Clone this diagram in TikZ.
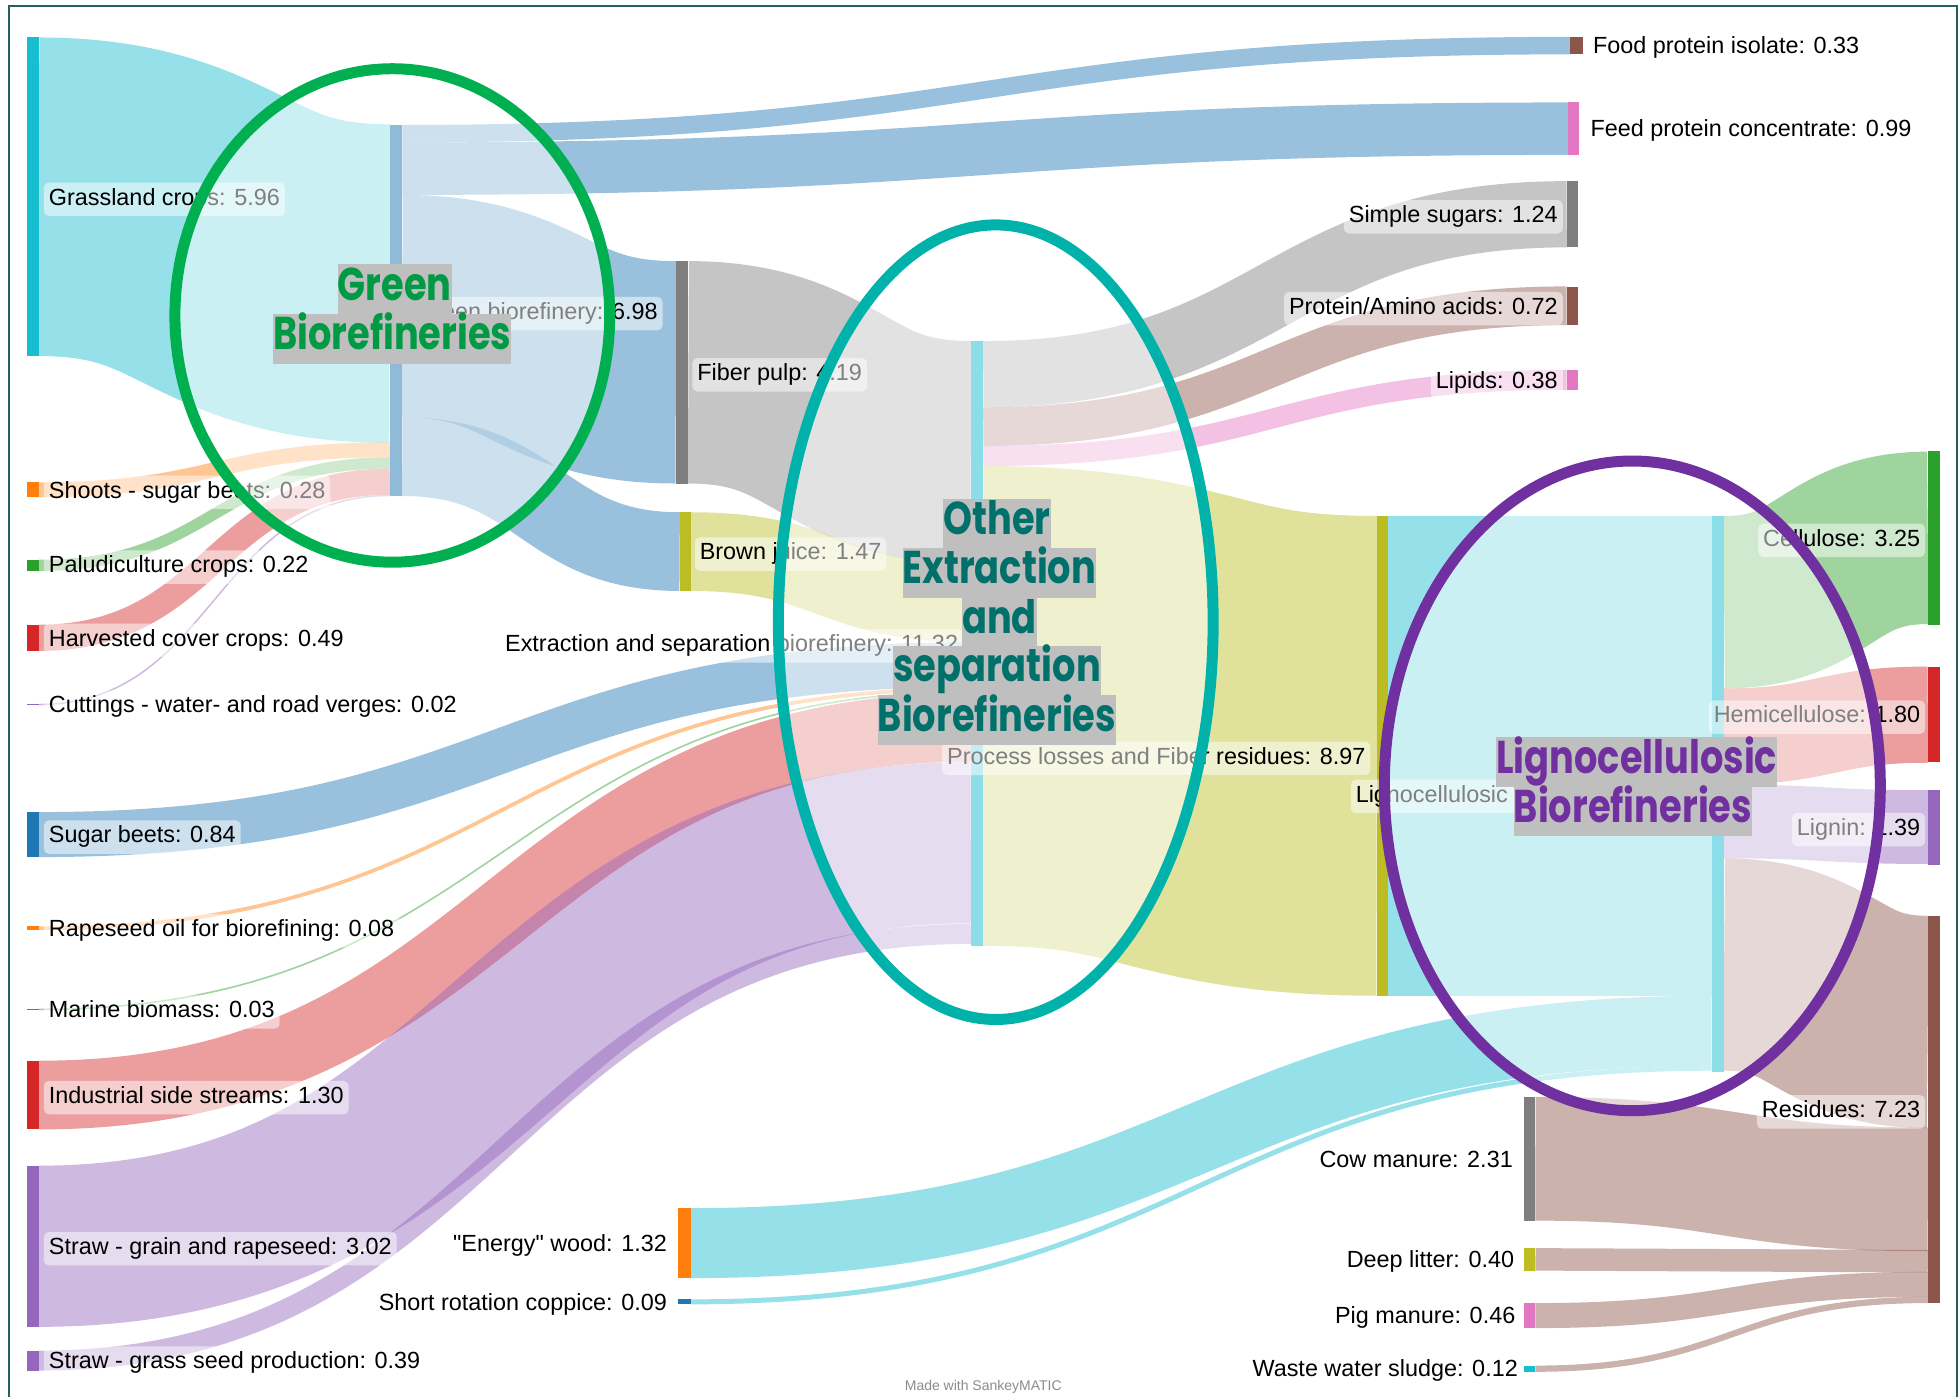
\documentclass[tikz,border=0pt]{standalone}
\usepackage{fontspec}
\setmainfont{Liberation Sans}
\newfontfamily\plainquote[Ligatures=TeXOff]{Liberation Sans}
\newfontfamily\titlefont[FakeStretch=0.8]{Poppins}
\usetikzlibrary{fit}
\definecolor{cCyan}{HTML}{17BECF}
\definecolor{cOrange}{HTML}{FF7F0E}
\definecolor{cGreen}{HTML}{2CA02C}
\definecolor{cRed}{HTML}{D62728}
\definecolor{cPurple}{HTML}{9467BD}
\definecolor{cBlue}{HTML}{1F77B4}
\definecolor{cGray}{HTML}{7F7F7F}
\definecolor{cOlive}{HTML}{BCBD22}
\definecolor{cBrown}{HTML}{8C564B}
\definecolor{cPink}{HTML}{E377C2}
\definecolor{ellGreen}{HTML}{00B050}
\definecolor{ellTeal}{HTML}{00B2AA}
\definecolor{ellPurple}{HTML}{7030A0}
\definecolor{txtGreen}{HTML}{009A44}
\definecolor{txtTeal}{HTML}{00706A}
\definecolor{txtPurple}{HTML}{7030A0}
\definecolor{titleGray}{HTML}{BFBFBF}
\definecolor{frameCol}{HTML}{275E5E}
% flow: colour, x source, y top, y bottom (source), x target, y top, y bottom (target)
\newcommand\sankeyflow[7]{%
  \draw[#1, draw opacity=0.45, line cap=butt, line width={(#4-#3)*1.25pt}]
    (#2,{(#3+#4)/2}) .. controls ({(#2+#5)/2},{(#3+#4)/2}) and ({(#2+#5)/2},{(#6+#7)/2}) .. (#5,{(#6+#7)/2});}
\newcommand\sbar[6]{\node[fit={(#3,#4) (#5,#6)}, inner sep=0pt, fill=#2, draw=none] (#1) {};}
\tikzset{
  lbl/.style={font=\fontsize{23.4}{28}\selectfont, fill=white, fill opacity=0.5, text opacity=1, rounded corners=5pt, inner xsep=5pt, inner ysep=6pt, text height=16.5pt, text depth=5pt, yshift=-2.5pt},
  ttl/.style={font=\titlefont\bfseries\fontsize{46}{50}\selectfont, fill=titleGray, inner xsep=0pt, inner ysep=0pt, text height=33pt, text depth=11pt, minimum height=50pt, anchor=center},
  ring/.style={line width=11pt, fill=white, fill opacity=0.5, draw opacity=1}
}
\begin{document}
\begin{tikzpicture}[x=1.25pt,y=-1.25pt]
\useasboundingbox (0,0) rectangle (1568,1118);
\fill[white] (0,0) rectangle (1568,1118);
% ---------- flows ----------
\sankeyflow{cCyan}{31}{30}{285}{312}{100}{354}
\sankeyflow{cOrange}{31}{386}{398}{312}{354}{366}
\sankeyflow{cGreen}{31}{448}{457}{312}{366}{375}
\sankeyflow{cRed}{31}{500}{521}{312}{375}{396}
\sankeyflow{cPurple}{31}{563.3}{564.5}{312}{396}{397.2}
\sankeyflow{cBlue}{322}{100}{114}{1257}{29.5}{43.5}
\sankeyflow{cBlue}{322}{114}{156}{1255}{82}{124}
\sankeyflow{cBlue}{322}{156}{334}{541}{209}{387}
\sankeyflow{cBlue}{322}{334}{397}{544}{410}{473}
\sankeyflow{cGray}{551}{209}{387}{777}{273}{451}
\sankeyflow{cOlive}{553}{410}{473}{777}{451}{514}
\sankeyflow{cBlue}{31}{650}{686}{777}{514}{550}
\sankeyflow{cOrange}{31}{741.5}{744.5}{777}{550}{553}
\sankeyflow{cGreen}{31}{807.3}{808.6}{777}{553}{554.4}
\sankeyflow{cRed}{31}{849}{904}{777}{554.4}{610}
\sankeyflow{cPurple}{31}{933}{1062}{777}{610}{739}
\sankeyflow{cPurple}{31}{1081}{1097}{777}{739}{756}
\sankeyflow{cGray}{787}{273}{326}{1254}{145}{198}
\sankeyflow{cBrown}{787}{326}{357}{1254}{229.5}{260}
\sankeyflow{cPink}{787}{357}{373}{1254}{296}{312}
\sankeyflow{cOlive}{787}{373}{757}{1102}{413}{797}
\sankeyflow{cCyan}{1111}{413}{797}{1370}{413}{797}
\sankeyflow{cCyan}{553}{967}{1023}{1370}{797}{853}
\sankeyflow{cCyan}{553}{1040}{1044}{1370}{853}{857}
\sankeyflow{cGreen}{1380}{413}{551}{1543}{361}{500}
\sankeyflow{cRed}{1380}{551}{628}{1543}{534}{610}
\sankeyflow{cPurple}{1380}{628}{687}{1543}{632}{692}
\sankeyflow{cBrown}{1380}{687}{857}{1543}{733}{903}
\sankeyflow{cBrown}{1229}{878}{977}{1543}{903}{1001}
\sankeyflow{cBrown}{1229}{999}{1017}{1543}{1001}{1018}
\sankeyflow{cBrown}{1229}{1043}{1063}{1543}{1018}{1038}
\sankeyflow{cBrown}{1229}{1093}{1098}{1543}{1038}{1043}
% ---------- node bars ----------
\sbar{grass}{cCyan}{22}{30}{31}{285}
\sbar{shoots}{cOrange}{22}{386}{31}{398}
\sbar{palu}{cGreen}{22}{448}{31}{457}
\sbar{harv}{cRed}{22}{500}{31}{521}
\sbar{cut}{cPurple}{22}{563.3}{31}{564.5}
\sbar{sugar}{cBlue}{22}{650}{31}{686}
\sbar{rape}{cOrange}{22}{741.5}{31}{744.5}
\sbar{marine}{cGreen}{22}{807.3}{31}{808.6}
\sbar{indus}{cRed}{22}{849}{31}{904}
\sbar{strawg}{cPurple}{22}{933}{31}{1062}
\sbar{strawgs}{cPurple}{22}{1081}{31}{1097}
\sbar{greenbio}{cBlue}{312}{100}{322}{397.2}
\sbar{fiber}{cGray}{541}{209}{551}{387}
\sbar{brown}{cOlive}{544}{410}{553}{473}
\sbar{energy}{cOrange}{543}{967}{553}{1023}
\sbar{src}{cBlue}{543}{1040}{553}{1044}
\sbar{extr}{cCyan}{777}{273}{787}{757}
\sbar{food}{cBrown}{1257}{29.5}{1267}{43.5}
\sbar{feed}{cPink}{1255}{82}{1264}{124}
\sbar{sugars}{cGray}{1254}{145}{1263}{198}
\sbar{protein}{cBrown}{1254}{229.5}{1263}{260}
\sbar{lipids}{cPink}{1254}{296}{1263}{312}
\sbar{losses}{cOlive}{1102}{413}{1111}{797}
\sbar{ligno}{cCyan}{1370}{413}{1380}{858}
\sbar{cow}{cGray}{1220}{878}{1229}{977}
\sbar{deep}{cOlive}{1220}{999}{1229}{1017}
\sbar{pig}{cPink}{1220}{1043}{1229}{1063}
\sbar{waste}{cCyan}{1220}{1093}{1229}{1098}
\sbar{cell}{cGreen}{1543}{361}{1553}{500}
\sbar{hemi}{cRed}{1543}{534}{1553}{610}
\sbar{lignin}{cPurple}{1543}{632}{1553}{692}
\sbar{resid}{cBrown}{1543}{733}{1553}{1043}
% ---------- labels ----------
\node[lbl, anchor=west] (l-grass) at (35,157.5) {Grassland crops: 5.96};
\node[lbl, anchor=west] (l-shoots) at (35,392) {Shoots - sugar beets: 0.28};
\node[lbl, anchor=west] (l-palu) at (35,452) {Paludiculture crops: 0.22};
\node[lbl, anchor=west] (l-harv) at (35,510.5) {Harvested cover crops: 0.49};
\node[lbl, anchor=west] (l-cut) at (35,564) {Cuttings - water- and road verges: 0.02};
\node[lbl, anchor=west] (l-sugar) at (35,668) {Sugar beets: 0.84};
\node[lbl, anchor=west] (l-rape) at (35,743) {Rapeseed oil for biorefining: 0.08};
\node[lbl, anchor=west] (l-marine) at (35,808) {Marine biomass: 0.03};
\node[lbl, anchor=west] (l-indus) at (35,876.5) {Industrial side streams: 1.30};
\node[lbl, anchor=west] (l-strawg) at (35,997.5) {Straw - grain and rapeseed: 3.02};
\node[lbl, anchor=west] (l-strawgs) at (35,1089) {Straw - grass seed production: 0.39};
\node[lbl, anchor=west] (l-greenbio) at (329,249) {Green biorefinery: 6.98};
\node[lbl, anchor=west] (l-fiber) at (554,298) {Fiber pulp: 4.19};
\node[lbl, anchor=west] (l-brown) at (556,441.5) {Brown juice: 1.47};
\node[lbl, anchor=east] (l-extr) at (771,515) {Extraction and separation biorefinery: 11.32};
\node[lbl, anchor=east] (l-losses) at (1097,605) {Process losses and Fiber residues: 8.97};
\node[lbl, anchor=west] (l-ligno) at (1081,635.5) {Lignocellulosic biorefinery: 10.38};
\node[lbl, anchor=east] (l-sugars) at (1251,171.5) {Simple sugars: 1.24};
\node[lbl, anchor=east] (l-protein) at (1251,245) {Protein/Amino acids: 0.72};
\node[lbl, anchor=east] (l-lipids) at (1251,304) {Lipids: 0.38};
\node[lbl, anchor=west] (l-food) at (1271,36.5) {Food protein isolate: 0.33};
\node[lbl, anchor=west] (l-feed) at (1269,103) {Feed protein concentrate: 0.99};
\node[lbl, anchor=east] (l-cell) at (1541,430.5) {Cellulose: 3.25};
\node[lbl, anchor=east] (l-hemi) at (1541,572) {Hemicellulose: 1.80};
\node[lbl, anchor=east] (l-lignin) at (1541,662) {Lignin: 1.39};
\node[lbl, anchor=east] (l-resid) at (1541,888) {Residues: 7.23};
\node[lbl, anchor=east] (l-cow) at (1215,927.5) {Cow manure: 2.31};
\node[lbl, anchor=east] (l-deep) at (1216,1008) {Deep litter: 0.40};
\node[lbl, anchor=east] (l-pig) at (1217,1053) {Pig manure: 0.46};
\node[lbl, anchor=east] (l-waste) at (1219,1095.5) {Waste water sludge: 0.12};
\node[lbl, anchor=east] (l-energy) at (538,995) {{\plainquote "}Energy{\plainquote "} wood: 1.32};
\node[lbl, anchor=east] (l-src) at (538,1042) {Short rotation coppice: 0.09};
\node[font=\fontsize{14}{16}\selectfont, text=black!45, inner sep=0pt] (made) at (787,1110) {Made with SankeyMATIC};
% ---------- ellipses ----------
\path[ring, draw=ellGreen] (314,252.5) ellipse [x radius=174, y radius=197.5];
\path[ring, draw=ellTeal] (797,498) ellipse [x radius=174, y radius=318];
\path[ring, draw=ellPurple] (1306.5,629) ellipse [x radius=198.5, y radius=260];
% ---------- titles ----------
\node[ttl, text=txtGreen] (tg1) at (316,231.5) {Green};
\node[ttl, text=txtGreen] (tg2) at (314,271) {Biorefineries};
\node[ttl, text=txtTeal] (tt1) at (798,419) {Other};
\node[ttl, text=txtTeal] (tt2) at (800,458.5) {Extraction};
\node[ttl, text=txtTeal] (tt3) at (800,498) {and};
\node[ttl, text=txtTeal] (tt4) at (798,537) {separation};
\node[ttl, text=txtTeal] (tt5) at (798,576.5) {Biorefineries};
\node[ttl, text=txtPurple] (tp1) at (1310,610) {Lignocellulosic};
\node[ttl, text=txtPurple] (tp2) at (1307,649.5) {Biorefineries};
% ---------- frame ----------
\draw[frameCol, line width=2pt] (7,1120) -- (7,5) -- (1566,5) -- (1566,1120);
\end{tikzpicture}
\end{document}
